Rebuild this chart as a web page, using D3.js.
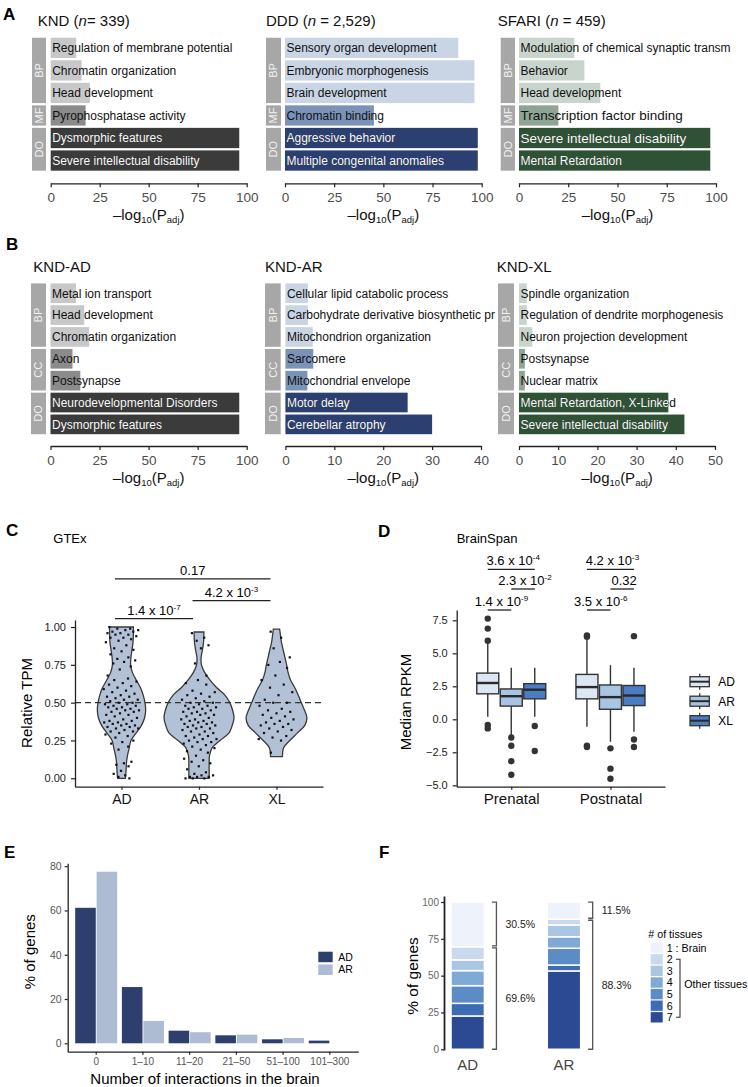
<!DOCTYPE html>
<html>
<head>
<meta charset="utf-8">
<script src="https://cdn.jsdelivr.net/npm/d3@7"></script>
<style>
  body { margin: 0; background: #fff; }
  svg { display: block; }
</style>
</head>
<body>
<div id="fig"></div>
<script>
// ---------- A : enrichment of all gene sets ----------
var ontoA = ["BP", "BP", "BP", "MF", "DO", "DO"];
var kndTerms = ["Regulation of membrane potential", "Chromatin organization", "Head development",
  "Pyrophosphatase activity", "Dysmorphic features", "Severe intellectual disability"];
var kndValues = [13, 15.8, 20, 17.8, 96.2, 96.2];
var dddTerms = ["Sensory organ development", "Embryonic morphogenesis", "Brain development",
  "Chromatin binding", "Aggressive behavior", "Multiple congenital anomalies"];
var dddValues = [88.1, 96.3, 96.3, 45.2, 98, 98];
var sfariTerms = ["Modulation of chemical synaptic transm", "Behavior", "Head development",
  "Transcription factor binding", "Severe intellectual disability", "Mental Retardation"];
var sfariValues = [28.1, 33.2, 41.3, 20, 97.1, 97.1];
var ticksA = [0, 25, 50, 75, 100];

// ---------- B : KND by inheritance ----------
var ontoB = ["BP", "BP", "BP", "CC", "CC", "DO", "DO"];
var adTerms = ["Metal ion transport", "Head development", "Chromatin organization", "Axon",
  "Postsynapse", "Neurodevelopmental Disorders", "Dysmorphic features"];
var adValues = [13, 17.2, 19.7, 11.2, 15.2, 96.2, 96.2];
var arTerms = ["Cellular lipid catabolic process", "Carbohydrate derivative biosynthetic pr",
  "Mitochondrion organization", "Sarcomere", "Mitochondrial envelope", "Motor delay", "Cerebellar atrophy"];
var arValues = [4.6, 4.6, 5.6, 5.7, 4.5, 25, 30];
var xlTerms = ["Spindle organization", "Regulation of dendrite morphogenesis", "Neuron projection development",
  "Postsynapse", "Nuclear matrix", "Mental Retardation, X-Linked", "Severe intellectual disability"];
var xlValues = [2, 2, 3.4, 1.5, 1.5, 38.1, 42.2];
var ticksAD = [0, 25, 50, 75, 100];
var ticksAR = [0, 10, 20, 30, 40];
var ticksXL = [0, 10, 20, 30, 40, 50];

// ---------- C : GTEx violins ----------
var gtexGroups = ["AD", "AR", "XL"];
var gtexTicks = [0, 0.25, 0.5, 0.75, 1];
// [relative TPM, relative density]
var densAD = [[0, 0.11], [0.05, 0.13], [0.1, 0.14], [0.15, 0.17], [0.2, 0.22], [0.25, 0.27], [0.3, 0.42],
  [0.35, 0.57], [0.4, 0.66], [0.45, 0.69], [0.5, 0.67], [0.55, 0.62], [0.6, 0.54], [0.65, 0.42],
  [0.7, 0.31], [0.75, 0.26], [0.8, 0.27], [0.85, 0.3], [0.9, 0.33], [0.95, 0.34], [1, 0.34]];
var densAR = [[0, 0.29], [0.05, 0.29], [0.1, 0.29], [0.15, 0.3], [0.2, 0.37], [0.25, 0.6], [0.3, 0.86],
  [0.35, 0.95], [0.4, 1], [0.45, 0.96], [0.5, 0.88], [0.55, 0.74], [0.6, 0.5], [0.65, 0.31], [0.7, 0.16],
  [0.75, 0.07], [0.8, 0.06], [0.85, 0.1], [0.9, 0.13], [0.95, 0.14], [0.967, 0.14]];
var densXL = [[0.143, 0.17], [0.2, 0.2], [0.25, 0.38], [0.3, 0.6], [0.35, 0.81], [0.4, 0.87], [0.45, 0.8],
  [0.5, 0.71], [0.55, 0.62], [0.6, 0.52], [0.65, 0.4], [0.7, 0.33], [0.75, 0.29], [0.8, 0.24],
  [0.85, 0.19], [0.9, 0.14], [0.95, 0.11], [0.986, 0.09]];
var dotsAD = [1, 0.99, 0.99, 0.98, 0.98, 0.97, 0.97, 0.96, 0.96, 0.95, 0.95, 0.94, 0.93, 0.93, 0.92, 0.91, 0.9,
  0.88, 0.86, 0.85, 0.84, 0.82, 0.8, 0.79, 0.78, 0.77, 0.76, 0.74, 0.72, 0.68, 0.66, 0.65, 0.64, 0.63, 0.62,
  0.61, 0.6, 0.59, 0.58, 0.57, 0.56, 0.55, 0.54, 0.54, 0.53, 0.52, 0.52, 0.51, 0.5, 0.5, 0.49, 0.49, 0.48,
  0.48, 0.47, 0.47, 0.46, 0.46, 0.45, 0.45, 0.44, 0.44, 0.43, 0.42, 0.42, 0.41, 0.4, 0.39, 0.38, 0.38, 0.37,
  0.37, 0.36, 0.36, 0.35, 0.35, 0.34, 0.34, 0.33, 0.33, 0.32, 0.31, 0.31, 0.3, 0.29, 0.28, 0.27, 0.25, 0.24,
  0.23, 0.21, 0.19, 0.11, 0.1, 0.09, 0.08, 0.05, 0.03, 0.02, 0.01, 0];
var dotsAR = [0.96, 0.93, 0.91, 0.88, 0.86, 0.76, 0.68, 0.65, 0.63, 0.62, 0.58, 0.57, 0.56, 0.55, 0.54, 0.53,
  0.52, 0.51, 0.5, 0.5, 0.49, 0.48, 0.48, 0.47, 0.47, 0.46, 0.46, 0.45, 0.44, 0.44, 0.43, 0.43, 0.42, 0.42,
  0.41, 0.4, 0.39, 0.39, 0.38, 0.38, 0.37, 0.37, 0.36, 0.36, 0.35, 0.35, 0.34, 0.34, 0.33, 0.33, 0.32, 0.31,
  0.31, 0.3, 0.29, 0.28, 0.28, 0.27, 0.26, 0.26, 0.25, 0.24, 0.24, 0.23, 0.22, 0.21, 0.2, 0.19, 0.18, 0.17,
  0.15, 0.13, 0.12, 0.11, 0.1, 0.08, 0.06, 0.04, 0.03, 0.02, 0.02, 0.01, 0.01, 0.01, 0, 0, 0];
var dotsXL = [0.97, 0.93, 0.86, 0.8, 0.77, 0.75, 0.73, 0.68, 0.65, 0.62, 0.6, 0.57, 0.55, 0.52, 0.5, 0.5,
  0.48, 0.46, 0.45, 0.44, 0.43, 0.42, 0.41, 0.4, 0.39, 0.38, 0.37, 0.36, 0.36, 0.35, 0.34, 0.33, 0.32, 0.31,
  0.3, 0.28, 0.27, 0.26, 0.25, 0.17];
var gtexTests = [["AD", "AR", "1.4 x 10", "-7"], ["AR", "XL", "4.2 x 10", "-3"], ["AD", "XL", "0.17", ""]];

// ---------- D : BrainSpan boxplots ----------
var stages = ["Prenatal", "Postnatal"];
var modes = ["AD", "AR", "XL"];
// [lower whisker, Q1, median, Q3, upper whisker]
var boxPrenatal = [[0.2, 1.93, 2.75, 3.5, 5.8], [-1.2, 1.0, 1.75, 2.3, 3.9], [0.2, 1.55, 2.24, 2.7, 3.9]];
var boxPostnatal = [[-0.56, 1.55, 2.44, 3.4, 6.0], [-1.7, 0.76, 1.68, 2.6, 4.1], [-0.95, 1.04, 1.8, 2.56, 3.9]];
var outPrenatal = [[7.63, 6.87, 5.95, -0.43, -0.69], [-1.38, -2.0, -3.18, -4.2], [-0.51, -2.4]];
var outPostnatal = [[6.35, 6.25, -2.0, -2.1], [-2.2, -3.74, -4.5], [6.3, -1.53, -2.1]];
var spanTicks = [-5, -2.5, 0, 2.5, 5, 7.5];
var spanTests = [
  ["Prenatal", "AD", "AR", "1.4 x 10", "-9"], ["Prenatal", "AR", "XL", "2.3 x 10", "-2"], ["Prenatal", "AD", "XL", "3.6 x 10", "-4"],
  ["Postnatal", "AD", "AR", "3.5 x 10", "-6"], ["Postnatal", "AR", "XL", "0.32", ""], ["Postnatal", "AD", "XL", "4.2 x 10", "-3"]];

// ---------- E : interactions ----------
var bins = ["0", "1\u201310", "11\u201320", "21\u201350", "51\u2013100", "101\u2013300"];
var interAD = [61.2, 25.4, 5.7, 3.6, 1.8, 1.2];
var interAR = [77.5, 10.1, 5.0, 3.9, 2.4, 0];
var pctTicks = [0, 20, 40, 60, 80];

// ---------- F : tissue specificity ----------
var tissueLabels = ["1 : Brain", "2", "3", "4", "5", "6", "7"];
var tissueAD = [30.4, 8.9, 7.3, 10.2, 12.0, 8.6, 22.6];
var tissueAR = [11.7, 3.9, 8.0, 7.8, 11.4, 4.0, 53.2];
var brainPct = ["30.5%", "11.5%"];
var otherPct = ["69.6%", "88.3%"];
var fTicks = [0, 25, 50, 75, 100];

// ================= drawing =================
var FONT = '"Liberation Sans", Arial, Helvetica, sans-serif';
var svg = d3.select("#fig").append("svg")
  .attr("width", 748).attr("height", 1087)
  .attr("font-family", FONT);
var defs = svg.append("defs");

var grayPal = {BP: "#c8c8c8", MF: "#8b8b8b", CC: "#8b8b8b", DO: "#3b3b3b"};
var bluePal = {BP: "#c9d4e4", MF: "#7b93b8", CC: "#7b93b8", DO: "#2b3f70"};
var greenPal = {BP: "#c9d5cc", MF: "#8ea596", CC: "#8ea596", DO: "#2f5237"};
var bigLabels = ["sfari:Transcription factor binding", "sfari:Severe intellectual disability"];

function styleAxis(ax, fs, col) {
  ax.attr("font-family", FONT).attr("font-size", fs);
  ax.select(".domain").attr("stroke", "#222").attr("stroke-width", 1.3);
  ax.selectAll(".tick line").attr("stroke", "#222").attr("stroke-width", 1.2);
  ax.selectAll(".tick text").attr("fill", col);
}

function supText(sel, base, sup, fs) {
  sel.append("tspan").text(base);
  if (sup) sel.append("tspan").attr("dy", -5).attr("font-size", fs * 0.62).text(sup);
}

// panel letters
[["A", 3, 19.5], ["B", 6, 250], ["C", 6, 536], ["D", 378, 537], ["E", 4, 858], ["F", 379, 858]].forEach(function(d) {
  svg.append("text").attr("x", d[1]).attr("y", d[2]).attr("font-size", 17)
    .attr("font-weight", "bold").text(d[0]);
});

function logTitle(g, cx, y) {
  var t = g.append("text").attr("x", cx).attr("y", y).attr("text-anchor", "middle")
    .attr("font-size", 15).attr("fill", "#111");
  t.append("tspan").text("\u2013log");
  t.append("tspan").attr("font-size", 9.5).attr("dy", 3).text("10");
  t.append("tspan").attr("dy", -3).text("(P");
  t.append("tspan").attr("font-size", 9.5).attr("dy", 3).text("adj");
  t.append("tspan").attr("dy", -3).text(")");
}

function goPanel(c) {
  var g = svg.append("g");
  var x = d3.scaleLinear().domain([0, c.ticks[c.ticks.length - 1]]).range([c.x0, c.x1]);
  var y = d3.scaleBand().domain(d3.range(c.terms.length)).range(c.rows)
    .paddingInner(0.1).paddingOuter(0.05);
  var bw = y.bandwidth();

  var t = g.append("text").attr("x", c.tx).attr("y", c.ty).attr("font-size", 15).attr("fill", "#111");
  t.append("tspan").text(c.title[0]);
  if (c.title.length > 1) {
    t.append("tspan").attr("font-style", "italic").text(c.title[1]);
    t.append("tspan").text(c.title[2]);
  }

  // ontology strips
  d3.groups(d3.range(c.terms.length), function(i) { return c.onto[i]; }).forEach(function(gr) {
    var top = y(gr[1][0]), bot = y(gr[1][gr[1].length - 1]) + bw;
    g.append("rect").attr("x", c.strip[0]).attr("y", top)
      .attr("width", c.strip[1] - c.strip[0]).attr("height", bot - top).attr("fill", "#a7a7a7");
    g.append("text")
      .attr("transform", "translate(" + ((c.strip[0] + c.strip[1]) / 2) + "," + ((top + bot) / 2) + ") rotate(-90)")
      .attr("text-anchor", "middle").attr("dy", "0.36em").attr("font-size", 11)
      .attr("fill", "#f2f2f2").text(gr[0]);
  });

  defs.append("clipPath").attr("id", "cp-" + c.id).append("rect")
    .attr("x", c.x0 - 1).attr("y", c.rows[0]).attr("width", c.x1 - c.x0 + 16)
    .attr("height", c.rows[1] - c.rows[0]);
  var pg = g.append("g").attr("clip-path", "url(#cp-" + c.id + ")");

  c.terms.forEach(function(term, i) {
    var o = c.onto[i], yy = y(i), w = x(c.values[i]) - x(0);
    var fs = bigLabels.indexOf(c.id + ":" + term) >= 0 ? 13.5 : 12;
    pg.append("rect").attr("x", x(0)).attr("y", yy).attr("width", w).attr("height", bw)
      .attr("fill", c.pal[o]);
    function label(sel, col) {
      sel.append("text").attr("x", x(0) + 1.5).attr("y", yy + bw / 2).attr("dy", "0.36em")
        .attr("font-size", fs).attr("fill", col).text(term);
    }
    label(pg, "#111");
    if (o === "DO") {
      var cid = "cp-" + c.id + "-" + i;
      defs.append("clipPath").attr("id", cid).append("rect")
        .attr("x", x(0)).attr("y", yy).attr("width", w).attr("height", bw);
      label(pg.append("g").attr("clip-path", "url(#" + cid + ")"), "#fff");
    }
  });

  var ax = g.append("g").attr("transform", "translate(0," + c.axisY + ")")
    .call(d3.axisBottom(x).tickValues(c.ticks).tickSize(4).tickSizeOuter(0).tickPadding(5));
  styleAxis(ax, 13.5, "#4d4d4d");
  logTitle(g, (c.x0 + c.x1) / 2, c.axisY + 37);
}

var rowsA = [36.6, 171.8], rowsB = [282.3, 435.3];
goPanel({id: "knd", title: ["KND (", "n", "= 339)"], terms: kndTerms, onto: ontoA, values: kndValues,
  ticks: ticksA, pal: grayPal, tx: 37.7, ty: 26, strip: [32, 46], x0: 50.7, x1: 246.7, rows: rowsA, axisY: 183.3});
goPanel({id: "ddd", title: ["DDD (", "n", " = 2,529)"], terms: dddTerms, onto: ontoA, values: dddValues,
  ticks: ticksA, pal: bluePal, tx: 266, ty: 26, strip: [266, 281], x0: 285, x1: 481.7, rows: rowsA, axisY: 183.3});
goPanel({id: "sfari", title: ["SFARI (", "n", " = 459)"], terms: sfariTerms, onto: ontoA, values: sfariValues,
  ticks: ticksA, pal: greenPal, tx: 497.7, ty: 26, strip: [500.7, 515], x0: 519, x1: 716, rows: rowsA, axisY: 183.3});
goPanel({id: "ad", title: ["KND-AD"], terms: adTerms, onto: ontoB, values: adValues,
  ticks: ticksAD, pal: grayPal, tx: 33.3, ty: 271.7, strip: [31, 46], x0: 50.5, x1: 246.7, rows: rowsB, axisY: 446});
goPanel({id: "ar", title: ["KND-AR"], terms: arTerms, onto: ontoB, values: arValues,
  ticks: ticksAR, pal: bluePal, tx: 265, ty: 271.7, strip: [265, 280.7], x0: 285.4, x1: 481, rows: rowsB, axisY: 446});
goPanel({id: "xl", title: ["KND-XL"], terms: xlTerms, onto: ontoB, values: xlValues,
  ticks: ticksXL, pal: greenPal, tx: 496.7, ty: 271.7, strip: [498, 514], x0: 519, x1: 715, rows: rowsB, axisY: 446});

// ---------- C ----------
(function() {
  var g = svg.append("g");
  var y = d3.scaleLinear().domain([-0.0556, 1.0464]).range([786.7, 620]);
  var x = d3.scalePoint().domain(gtexGroups).range([75, 323]).padding(0.6);
  var w = d3.scaleLinear().domain([0, 1]).range([0, 35]);
  var dens = {AD: densAD, AR: densAR, XL: densXL};
  var dots = {AD: dotsAD, AR: dotsAR, XL: dotsXL};

  g.append("text").attr("x", 53.3).attr("y", 542.5).attr("font-size", 13).text("GTEx");

  gtexGroups.forEach(function(k) {
    var cx = x(k);
    var area = d3.area().curve(d3.curveCatmullRom)
      .y(function(d) { return y(d[0]); })
      .x0(function(d) { return cx - w(d[1]); })
      .x1(function(d) { return cx + w(d[1]); });
    g.append("path").datum(dens[k]).attr("d", area)
      .attr("fill", "#b3c1d7").attr("stroke", "#3a3a3a").attr("stroke-width", 1.3);
  });

  g.append("line").attr("x1", x.range()[0]).attr("x2", x.range()[1])
    .attr("y1", y(0.5)).attr("y2", y(0.5))
    .attr("stroke", "#333").attr("stroke-width", 1.2).attr("stroke-dasharray", "6,4");

  gtexGroups.forEach(function(k) {
    var cx = x(k), dd = dens[k];
    dots[k].forEach(function(v, i) {
      var near = dd.reduce(function(a, b) { return Math.abs(b[0] - v) < Math.abs(a[0] - v) ? b : a; });
      var jw = Math.min(18, w(near[1]) + 5);
      var f = ((i * 0.6180339887 + 0.137) % 1) - 0.5;
      g.append("rect").attr("x", cx + f * 2 * jw - 1).attr("y", y(v) - 1)
        .attr("width", 2.2).attr("height", 2.2).attr("fill", "#111");
    });
  });

  var ay = g.append("g").attr("transform", "translate(75,0)")
    .call(d3.axisLeft(y).tickValues(gtexTicks).tickFormat(d3.format(".2f"))
      .tickSize(4).tickSizeOuter(0).tickPadding(5));
  styleAxis(ay, 11, "#222");
  var axb = g.append("g").attr("transform", "translate(0,786.7)")
    .call(d3.axisBottom(x).tickSize(3).tickSizeOuter(0).tickPadding(4));
  styleAxis(axb, 14, "#111");

  g.append("text").attr("transform", "translate(32,703) rotate(-90)")
    .attr("text-anchor", "middle").attr("font-size", 15).text("Relative TPM");

  var levels = [1.055, 1.174, 1.318];
  gtexTests.forEach(function(t, i) {
    var x1 = x(t[0]) - 6.5, x2 = x(t[1]) - 6, ly = y(levels[i]);
    g.append("line").attr("x1", x1).attr("x2", x2).attr("y1", ly).attr("y2", ly)
      .attr("stroke", "#222").attr("stroke-width", 1.3);
    var tx = g.append("text").attr("x", (x1 + x2) / 2).attr("y", ly - 4)
      .attr("text-anchor", "middle").attr("font-size", 13);
    supText(tx, t[2], t[3], 13);
  });
})();

// ---------- D ----------
(function() {
  var g = svg.append("g");
  var y = d3.scaleLinear().domain([-5.106, 8.28]).range([786.7, 610]);
  var x = d3.scalePoint().domain(stages).range([456.7, 665]).padding(0.55);
  var dodge = d3.scalePoint().domain(modes).range([-23.5, 23.5]);
  var fill = {AD: "#dde7f4", AR: "#a8c6e4", XL: "#4a7dc1"};
  var bw = 22;

  g.append("text").attr("x", 456.7).attr("y", 542.5).attr("font-size", 13).text("BrainSpan");

  function drawBox(cx, b, col) {
    g.append("line").attr("x1", cx).attr("x2", cx).attr("y1", y(b[0])).attr("y2", y(b[1]))
      .attr("stroke", "#333").attr("stroke-width", 1.4);
    g.append("line").attr("x1", cx).attr("x2", cx).attr("y1", y(b[3])).attr("y2", y(b[4]))
      .attr("stroke", "#333").attr("stroke-width", 1.4);
    g.append("rect").attr("x", cx - bw / 2).attr("width", bw).attr("y", y(b[3]))
      .attr("height", y(b[1]) - y(b[3])).attr("fill", col)
      .attr("stroke", "#333").attr("stroke-width", 1.4);
    g.append("line").attr("x1", cx - bw / 2).attr("x2", cx + bw / 2).attr("y1", y(b[2])).attr("y2", y(b[2]))
      .attr("stroke", "#2a2a2a").attr("stroke-width", 2.4);
  }

  stages.forEach(function(s, si) {
    var boxes = si === 0 ? boxPrenatal : boxPostnatal;
    var outs = si === 0 ? outPrenatal : outPostnatal;
    modes.forEach(function(m, mi) {
      var cx = x(s) + dodge(m);
      drawBox(cx, boxes[mi], fill[m]);
      outs[mi].forEach(function(v) {
        g.append("circle").attr("cx", cx).attr("cy", y(v)).attr("r", 3.2).attr("fill", "#333");
      });
    });
  });

  var ay = g.append("g").attr("transform", "translate(456.7,0)")
    .call(d3.axisLeft(y).tickValues(spanTicks).tickFormat(d3.format(".1f"))
      .tickSize(4).tickSizeOuter(0).tickPadding(5));
  styleAxis(ay, 11, "#222");
  ay.selectAll(".tick text").text(function(d) { return d3.format(".1f")(d).replace("-", "\u2013"); });
  var axb = g.append("g").attr("transform", "translate(0,786.7)")
    .call(d3.axisBottom(x).tickSize(3).tickSizeOuter(0).tickPadding(4));
  styleAxis(axb, 15, "#111");

  g.append("text").attr("transform", "translate(411,702) rotate(-90)")
    .attr("text-anchor", "middle").attr("font-size", 15).text("Median RPKM");

  var levels = {"AD-AR": 610, "AR-XL": 589, "AD-XL": 569.3};
  spanTests.forEach(function(t) {
    var x1 = x(t[0]) + dodge(t[1]), x2 = x(t[0]) + dodge(t[2]), ly = levels[t[1] + "-" + t[2]];
    g.append("line").attr("x1", x1).attr("x2", x2).attr("y1", ly).attr("y2", ly)
      .attr("stroke", "#222").attr("stroke-width", 1.3);
    var tx = g.append("text").attr("x", (x1 + x2) / 2 + 2).attr("y", ly - 4)
      .attr("text-anchor", "middle").attr("font-size", 13);
    supText(tx, t[3], t[4], 13);
  });

  // legend
  modes.forEach(function(m, i) {
    var yc = 681.7 + i * 19.5, cx = 699.7;
    g.append("line").attr("x1", cx).attr("x2", cx).attr("y1", yc - 8).attr("y2", yc + 8)
      .attr("stroke", "#333").attr("stroke-width", 1.3);
    g.append("rect").attr("x", 690).attr("y", yc - 5).attr("width", 19.3).attr("height", 10)
      .attr("fill", fill[m]).attr("stroke", "#333").attr("stroke-width", 1.3);
    g.append("line").attr("x1", 690).attr("x2", 709.3).attr("y1", yc).attr("y2", yc)
      .attr("stroke", "#2a2a2a").attr("stroke-width", 2);
    g.append("text").attr("x", 718.3).attr("y", yc).attr("dy", "0.36em").attr("font-size", 12).text(m);
  });
})();

// ---------- E ----------
(function() {
  var g = svg.append("g");
  var x = d3.scaleBand().domain(bins).range([67.7, 358.3]).paddingInner(0.1).paddingOuter(0.16);
  var xs = d3.scaleBand().domain(["AD", "AR"]).range([0, x.bandwidth()]).paddingInner(0.04);
  var y = d3.scaleLinear().domain([-3.8, 81.3]).range([1051.7, 863.3]);
  var col = {AD: "#2e3f6d", AR: "#adbcd2"};

  bins.forEach(function(b, i) {
    [["AD", interAD[i]], ["AR", interAR[i]]].forEach(function(p) {
      g.append("rect").attr("x", x(b) + xs(p[0])).attr("width", xs.bandwidth())
        .attr("y", y(p[1])).attr("height", y(0) - y(p[1])).attr("fill", col[p[0]]);
    });
  });

  var ay = g.append("g").attr("transform", "translate(67.7,0)")
    .call(d3.axisLeft(y).tickValues(pctTicks).tickSize(3).tickSizeOuter(0).tickPadding(3));
  styleAxis(ay, 10.5, "#555");
  var axb = g.append("g").attr("transform", "translate(0,1051.7)")
    .call(d3.axisBottom(x).tickSize(3).tickSizeOuter(0).tickPadding(3));
  styleAxis(axb, 10, "#555");

  g.append("text").attr("transform", "translate(35,951.7) rotate(-90)")
    .attr("text-anchor", "middle").attr("font-size", 15).text("% of genes");
  g.append("text").attr("x", 205).attr("y", 1084).attr("text-anchor", "middle")
    .attr("font-size", 15).text("Number of interactions in the brain");

  ["AD", "AR"].forEach(function(k, i) {
    var yy = 951.7 + i * 12.8;
    g.append("rect").attr("x", 318.3).attr("y", yy).attr("width", 14.4).attr("height", 10.5).attr("fill", col[k]);
    g.append("text").attr("x", 338.3).attr("y", yy + 5.2).attr("dy", "0.36em").attr("font-size", 10.5).text(k);
  });
})();

// ---------- F ----------
(function() {
  var g = svg.append("g");
  var x = d3.scaleBand().domain(["AD", "AR"]).range([444, 587.7]).paddingInner(0.653).paddingOuter(0.073);
  var y = d3.scaleLinear().domain([-0.5, 104.1]).range([1050, 896]);
  var pal = ["#eef2fb", "#c9d9ee", "#a9c7e4", "#7fa9d7", "#5b8cc6", "#3d6cb5", "#2b4a93"];

  [["AD", tissueAD], ["AR", tissueAR]].forEach(function(pair, gi) {
    var vals = pair[1], cum = 0, x0 = x(pair[0]);
    for (var k = vals.length - 1; k >= 0; k--) {
      var v0 = cum, v1 = cum + vals[k];
      cum = v1;
      g.append("rect").attr("x", x0).attr("width", x.bandwidth())
        .attr("y", y(v1)).attr("height", y(v0) - y(v1))
        .attr("fill", pal[k]).attr("stroke", "#fff").attr("stroke-width", 1.5);
    }
    var split = 100 - vals[0];
    var bx = x0 + x.bandwidth() + 12;
    [[100, split, brainPct[gi], -1], [split, 0, otherPct[gi], 1]].forEach(function(br) {
      var yt = y(br[0]) + (br[3] > 0 ? 1 : 0), yb = y(br[1]) - (br[3] < 0 ? 1 : 0);
      g.append("path").attr("d", "M" + (bx - 4.5) + "," + yt + "H" + bx + "V" + yb + "H" + (bx - 4.5))
        .attr("fill", "none").attr("stroke", "#555").attr("stroke-width", 1.3);
      g.append("text").attr("x", bx + 9).attr("y", (yt + yb) / 2).attr("dy", "0.36em")
        .attr("font-size", 10.5).attr("fill", "#222").text(br[2]);
    });
    g.append("text").attr("x", x0 + x.bandwidth() / 2).attr("y", 1070).attr("text-anchor", "middle")
      .attr("font-size", 15).attr("fill", "#444").text(pair[0]);
  });

  var ay = g.append("g").attr("transform", "translate(444,0)")
    .call(d3.axisLeft(y).tickValues(fTicks).tickSize(3).tickSizeOuter(0).tickPadding(2));
  styleAxis(ay, 10, "#666");
  ay.select(".domain").attr("stroke-width", 1.8);

  g.append("text").attr("transform", "translate(418,976) rotate(-90)")
    .attr("text-anchor", "middle").attr("font-size", 15.5).text("% of genes");

  // legend
  g.append("text").attr("x", 648.3).attr("y", 938).attr("font-size", 10.7).text("# of tissues");
  tissueLabels.forEach(function(l, i) {
    var yc = 947.7 + i * 11.6;
    g.append("rect").attr("x", 650.7).attr("y", yc - 5.2).attr("width", 12).attr("height", 10.4).attr("fill", pal[i]);
    g.append("text").attr("x", 666.7).attr("y", yc).attr("dy", "0.36em").attr("font-size", 10.7).text(l);
  });
  var yTop = 947.7 + 11.6, yBot = 947.7 + 6 * 11.6;
  g.append("path").attr("d", "M676," + yTop + "H680V" + yBot + "H676")
    .attr("fill", "none").attr("stroke", "#333").attr("stroke-width", 1.1);
  g.append("text").attr("x", 684.3).attr("y", (yTop + yBot) / 2 - 4).attr("dy", "0.36em")
    .attr("font-size", 10.7).text("Other tissues");
})();
</script>
</body>
</html>
